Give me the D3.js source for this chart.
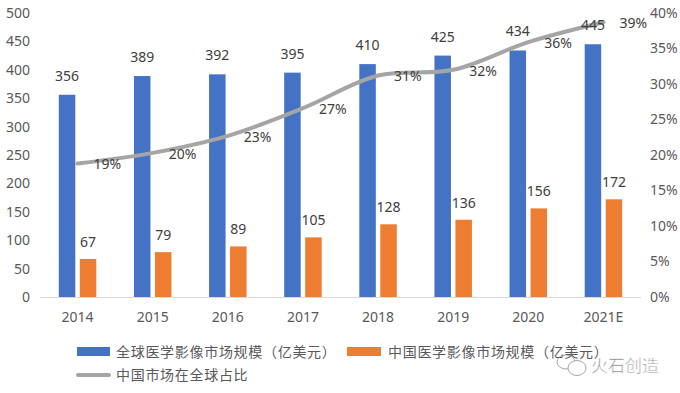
<!DOCTYPE html>
<html lang="zh">
<head>
    <meta charset="UTF-8">
    <title>医学影像市场规模</title>
    <script src="https://d3js.org/d3.v7.min.js"></script>
    <style>
        body { margin: 0; background: #ffffff; }
        svg { display: block; }
        .tick-text { font-family: "Noto Sans", "Noto Sans CJK SC", sans-serif; font-size: 14px; fill: #595959; }
        .val-text { font-family: "Noto Sans", "Noto Sans CJK SC", sans-serif; font-size: 14px; fill: #404040; }
        .legend-text { font-family: "Noto Sans CJK SC", sans-serif; font-size: 14px; fill: #595959; letter-spacing: 0.7px; }
    </style>
</head>
<body>
<div id="chart"></div>
<script>
    // 数据
    const years = ["2014", "2015", "2016", "2017", "2018", "2019", "2020", "2021E"];
    const globalSize = [356, 389, 392, 395, 410, 425, 434, 445];
    const chinaSize = [67, 79, 89, 105, 128, 136, 156, 172];
    const chinaShare = [18.8, 20.3, 22.7, 26.6, 31.2, 32.0, 35.9, 38.7];
    const leftTicks = [0, 50, 100, 150, 200, 250, 300, 350, 400, 450, 500];
    const rightTicks = [0, 5, 10, 15, 20, 25, 30, 35, 40];
    const seriesNames = ["全球医学影像市场规模（亿美元）", "中国医学影像市场规模（亿美元）", "中国市场在全球占比"];

    const W = 680, H = 393;
    const plot = { left: 40, right: 641, top: 13, bottom: 297 };

    const svg = d3.select("#chart").append("svg")
        .attr("width", W).attr("height", H);

    const x = d3.scaleBand().domain(years).range([plot.left, plot.right]);
    const yL = d3.scaleLinear().domain([0, 500]).range([plot.bottom, plot.top]);
    const yR = d3.scaleLinear().domain([0, 40]).range([plot.bottom, plot.top]);

    const barW = 16.5, gap = 4.5;
    const cx = d => x(d) + x.bandwidth() / 2;

    // 左轴
    svg.append("g")
        .selectAll("text").data(leftTicks).join("text")
        .attr("class", "tick-text")
        .attr("x", 30).attr("y", d => yL(d))
        .attr("dy", "0.35em").attr("text-anchor", "end")
        .text(d => d);

    // 右轴
    svg.append("g")
        .selectAll("text").data(rightTicks).join("text")
        .attr("class", "tick-text")
        .attr("x", 650).attr("y", d => yR(d))
        .attr("dy", "0.35em").attr("text-anchor", "start")
        .text(d => d + "%");

    // 横轴
    svg.append("line")
        .attr("x1", plot.left).attr("x2", plot.right)
        .attr("y1", plot.bottom + 0.5).attr("y2", plot.bottom + 0.5)
        .attr("stroke", "#d9d9d9").attr("stroke-width", 1);

    svg.append("g")
        .selectAll("text").data(years).join("text")
        .attr("class", "tick-text")
        .attr("x", d => cx(d)).attr("y", 317)
        .attr("dy", "0.35em").attr("text-anchor", "middle")
        .text(d => d);

    // 柱子
    svg.append("g").selectAll("rect").data(years).join("rect")
        .attr("x", d => cx(d) - gap / 2 - barW)
        .attr("width", barW)
        .attr("y", (d, i) => yL(globalSize[i]))
        .attr("height", (d, i) => plot.bottom - yL(globalSize[i]))
        .attr("fill", "#4472c4");

    svg.append("g").selectAll("rect").data(years).join("rect")
        .attr("x", d => cx(d) + gap / 2)
        .attr("width", barW)
        .attr("y", (d, i) => yL(chinaSize[i]))
        .attr("height", (d, i) => plot.bottom - yL(chinaSize[i]))
        .attr("fill", "#ed7d31");

    // 折线
    const line = d3.line()
        .curve(d3.curveCatmullRom.alpha(0.5))
        .x((d, i) => cx(years[i]))
        .y(d => yR(d));

    svg.append("path")
        .datum(chinaShare)
        .attr("d", line)
        .attr("fill", "none")
        .attr("stroke", "#a5a5a5")
        .attr("stroke-width", 4)
        .attr("stroke-linecap", "round");

    // 数据标签
    svg.append("g").selectAll("text").data(years).join("text")
        .attr("class", "val-text")
        .attr("x", d => cx(d) - gap / 2 - barW / 2)
        .attr("y", (d, i) => yL(globalSize[i]) - 19)
        .attr("dy", "0.35em").attr("text-anchor", "middle")
        .text((d, i) => globalSize[i]);

    svg.append("g").selectAll("text").data(years).join("text")
        .attr("class", "val-text")
        .attr("x", d => cx(d) + gap / 2 + barW / 2)
        .attr("y", (d, i) => yL(chinaSize[i]) - 17)
        .attr("dy", "0.35em").attr("text-anchor", "middle")
        .text((d, i) => chinaSize[i]);

    svg.append("g").selectAll("text").data(years).join("text")
        .attr("class", "val-text")
        .attr("x", d => cx(d) + 16)
        .attr("y", (d, i) => yR(chinaShare[i]) + 1)
        .attr("dy", "0.35em").attr("text-anchor", "start")
        .text((d, i) => Math.round(chinaShare[i]) + "%");

    // 图例
    const lg = svg.append("g");
    lg.append("rect").attr("x", 77).attr("y", 347).attr("width", 33).attr("height", 9).attr("fill", "#4472c4");
    lg.append("text").attr("class", "legend-text").attr("x", 116).attr("y", 352).attr("dy", "0.35em").text(seriesNames[0]);
    lg.append("rect").attr("x", 347).attr("y", 347).attr("width", 34).attr("height", 9).attr("fill", "#ed7d31");
    lg.append("text").attr("class", "legend-text").attr("x", 388).attr("y", 352).attr("dy", "0.35em").text(seriesNames[1]);
    lg.append("line").attr("x1", 78).attr("x2", 109).attr("y1", 375).attr("y2", 375)
        .attr("stroke", "#a5a5a5").attr("stroke-width", 4).attr("stroke-linecap", "round");
    lg.append("text").attr("class", "legend-text").attr("x", 116).attr("y", 375).attr("dy", "0.35em").text(seriesNames[2]);

    // 水印
    const wm = svg.append("g").attr("opacity", 0.75);
    wm.append("ellipse").attr("cx", 566).attr("cy", 362).attr("rx", 9).attr("ry", 7)
        .attr("fill", "none").attr("stroke", "#888").attr("stroke-width", 1);
    wm.append("ellipse").attr("cx", 577).attr("cy", 368).attr("rx", 9).attr("ry", 7.5)
        .attr("fill", "#fff").attr("stroke", "#888").attr("stroke-width", 1);
    wm.append("text").attr("x", 591).attr("y", 366).attr("dy", "0.35em")
        .attr("font-family", "Noto Sans CJK SC, sans-serif").attr("font-size", 17)
        .attr("fill", "#555").attr("stroke", "#fff").attr("stroke-width", 0.6)
        .text("火石创造");
</script>
</body>
</html>
